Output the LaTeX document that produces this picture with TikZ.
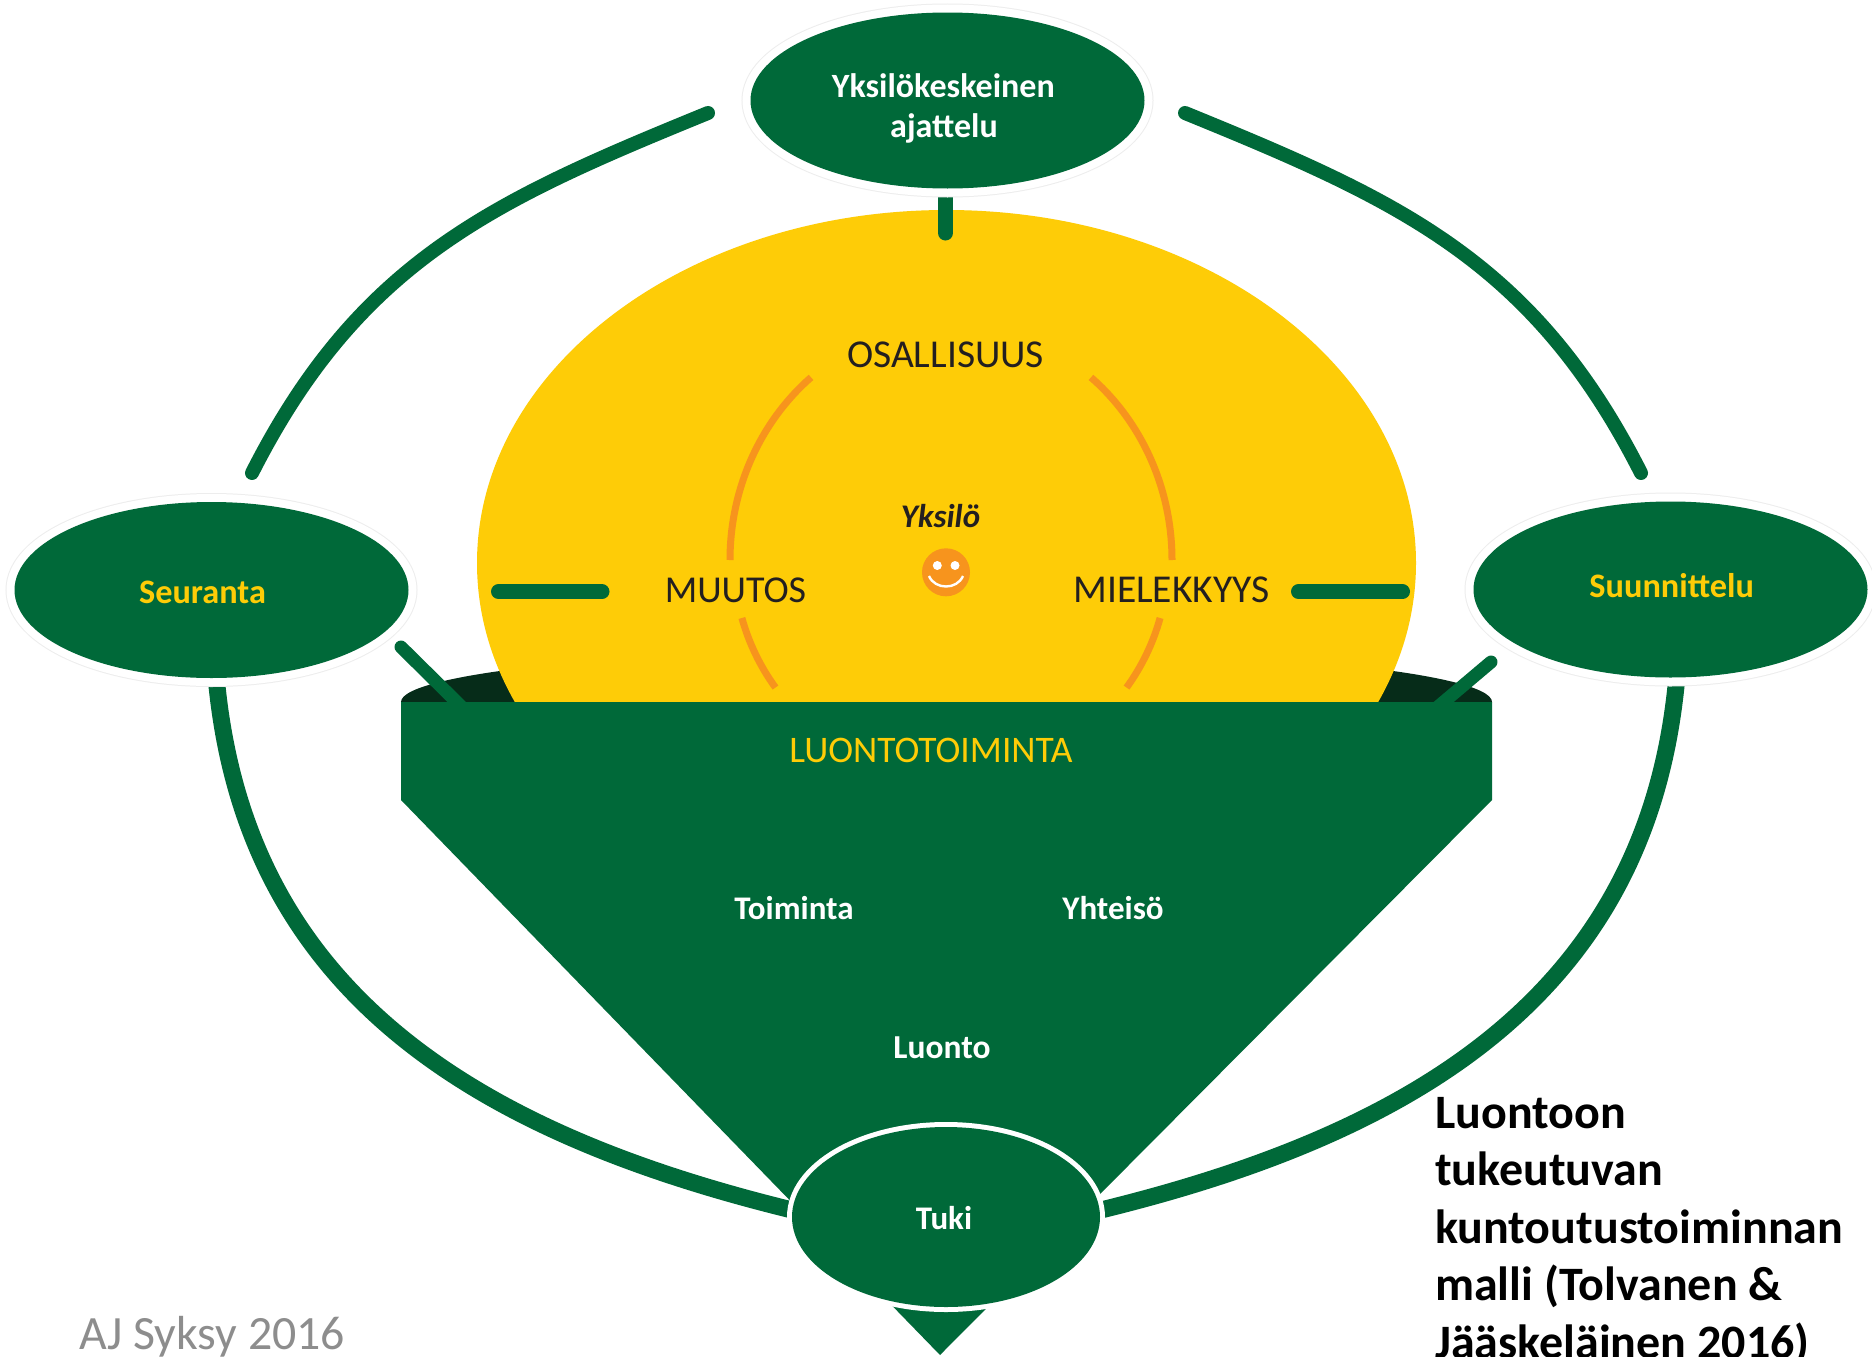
\documentclass[tikz,border=0pt]{standalone}
\usepackage{fontspec}
\setmainfont{Carlito}
\usetikzlibrary{shapes.geometric}
\definecolor{cgreen}{HTML}{006939}
\definecolor{cdark}{HTML}{062C19}
\definecolor{cyellow}{HTML}{FECC07}
\definecolor{corange}{HTML}{F7941D}
\definecolor{ctext}{HTML}{231F20}
\definecolor{cgray}{HTML}{8D8D8D}
\tikzset{
  ringell/.style={ellipse, inner sep=0pt, fill=cgreen, minimum width=394pt, minimum height=176pt,
    preaction={draw=black!7, line width=18pt}, preaction={draw=white, line width=16pt}},
  tukiell/.style={ellipse, inner sep=0pt, fill=cgreen, minimum width=308pt, minimum height=180pt,
    preaction={draw=white, line width=10pt}},
  outerarc/.style={draw=cgreen, line width=14pt, line cap=round},
  lowerarc/.style={draw=cgreen, line width=17pt},
  barline/.style={draw=cgreen, line width=15pt, line cap=round},
  diagline/.style={draw=cgreen, line width=13pt, line cap=round},
  orangearc/.style={draw=corange, line width=7pt},
  capstext/.style={text=ctext, inner sep=0pt, anchor=base},
  yellowcaps/.style={text=cyellow, font=\fontsize{37.5}{44}\selectfont, inner sep=0pt, anchor=base},
  whitebold/.style={text=white, font=\fontsize{33}{39}\selectfont\bfseries, inner sep=0pt, anchor=base},
  headbold/.style={text=white, font=\fontsize{34}{40}\selectfont\bfseries, inner sep=0pt, anchor=base},
  sidebold/.style={text=cyellow, font=\fontsize{34.3}{40}\selectfont\bfseries, inner sep=0pt, anchor=base},
}
\begin{document}
\begin{tikzpicture}[x=1pt,y=-1pt]
\useasboundingbox[fill=white] (0,0) rectangle (1872,1357);

% outer ring pieces
\coordinate (tlA) at (252,473);
\coordinate (tlB) at (708,113);
\coordinate (trA) at (1641,473);
\coordinate (trB) at (1185,113);
\draw[outerarc] (tlA) .. controls (360,260) and (495,200) .. (tlB);
\draw[outerarc] (trA) .. controls (1533,260) and (1398,200) .. (trB);
\coordinate (blA) at (217,660);
\coordinate (blB) at (805,1213);
\coordinate (brA) at (1676,660);
\coordinate (brB) at (1088,1213);
\draw[lowerarc] (blA) -- (217,686) .. controls (248,988) and (468,1130) .. (788,1209) -- (blB);
\draw[lowerarc] (brA) -- (1676,686) .. controls (1645,988) and (1425,1130) .. (1105,1209) -- (brB);

% dark top of the funnel
\fill[cdark] (946.5,702) ellipse[x radius=545.5, y radius=54];

% diagonal connectors
\coordinate (dlA) at (401,647);
\coordinate (dlB) at (480,725);
\coordinate (drA) at (1491,662);
\coordinate (drB) at (1420,722);
\draw[diagline] (dlA) -- (dlB);
\draw[diagline] (drA) -- (drB);

% yellow dome
\fill[cyellow] (946.5,563) ellipse[x radius=469.5, y radius=353];

% orange arcs
\draw[orangearc] (951,560) ++(230.7:221 and 236) arc[start angle=230.7, end angle=180, x radius=221, y radius=236];
\draw[orangearc] (951,560) ++(164.5:217) arc[start angle=164.5, end angle=144, radius=217];
\draw[orangearc] (951,560) ++(-50.7:221 and 236) arc[start angle=-50.7, end angle=0, x radius=221, y radius=236];
\draw[orangearc] (951,560) ++(15.5:217) arc[start angle=15.5, end angle=36, radius=217];

% bars
\coordinate (lbA) at (498.5,591.7);
\coordinate (lbB) at (602,591.7);
\coordinate (rbA) at (1298.5,591.7);
\coordinate (rbB) at (1402.5,591.7);
\draw[barline] (lbA) -- (lbB);
\draw[barline] (rbA) -- (rbB);

% stem
\coordinate (stA) at (945.5,180);
\coordinate (stB) at (945.5,233);
\draw[barline] (stA) -- (stB);

% funnel
\fill[cgreen] (401,702) -- (1492,702) -- (1492,800) -- (940,1355) -- (401,800) -- cycle;

% ellipses
\node[ringell] (top) at (947.5,100.5) {};
\node[ringell] (seur) at (211.5,590) {};
\node[ringell] (suun) at (1670.5,589.5) {};
\node[tukiell] (tuki) at (946,1217) {};

% texts
\node[headbold] (t1) at (943.3,97) {Yksilökeskeinen};
\node[headbold] (t2) at (944,137) {ajattelu};
\node[sidebold] (seurt) at (202.5,603) {Seuranta};
\node[sidebold] (suunt) at (1671.7,597) {Suunnittelu};
\node[whitebold] (tukit) at (944,1229) {Tuki};
\node[capstext, font=\fontsize{39.5}{46}\selectfont] (osal) at (945.5,367) {OSALLISUUS};
\node[capstext, font=\fontsize{38}{45}\selectfont] (muut) at (735.5,602) {MUUTOS};
\node[capstext, font=\fontsize{39.5}{46}\selectfont] (miel) at (1171.5,602) {MIELEKKYYS};
\node[text=ctext, font=\fontsize{33}{39}\selectfont\bfseries\itshape, inner sep=0pt, anchor=base] (yks) at (940.5,527) {Yksilö};
\node[yellowcaps] (luot) at (931,762) {LUONTOTOIMINTA};
\node[whitebold] (toim) at (794,919) {Toiminta};
\node[whitebold] (yht) at (1113,919) {Yhteisö};
\node[whitebold, font=\fontsize{33.5}{39}\selectfont\bfseries] (luon) at (942,1058) {Luonto};

% smiley
\fill[corange] (946,572.3) circle[radius=24];
\fill[white] (937.3,565.5) circle[radius=4.5];
\fill[white] (955,565.5) circle[radius=4.5];
\draw[white, line width=2.4pt] (929,576) .. controls (935,590) and (957,590) .. (963,576);

% caption
\node[anchor=north west, align=left, inner sep=0pt, text=black, font=\fontsize{48}{57.5}\selectfont\bfseries] (cap) at (1435,1097)
  {Luontoon\\tukeutuvan\\kuntoutustoiminnan\\malli (Tolvanen \&\\Jääskeläinen 2016)};
\node[anchor=base west, inner sep=0pt, text=cgray, font=\fontsize{47.8}{56}\selectfont] (aj) at (79,1349) {AJ Syksy 2016};
\end{tikzpicture}
\end{document}
